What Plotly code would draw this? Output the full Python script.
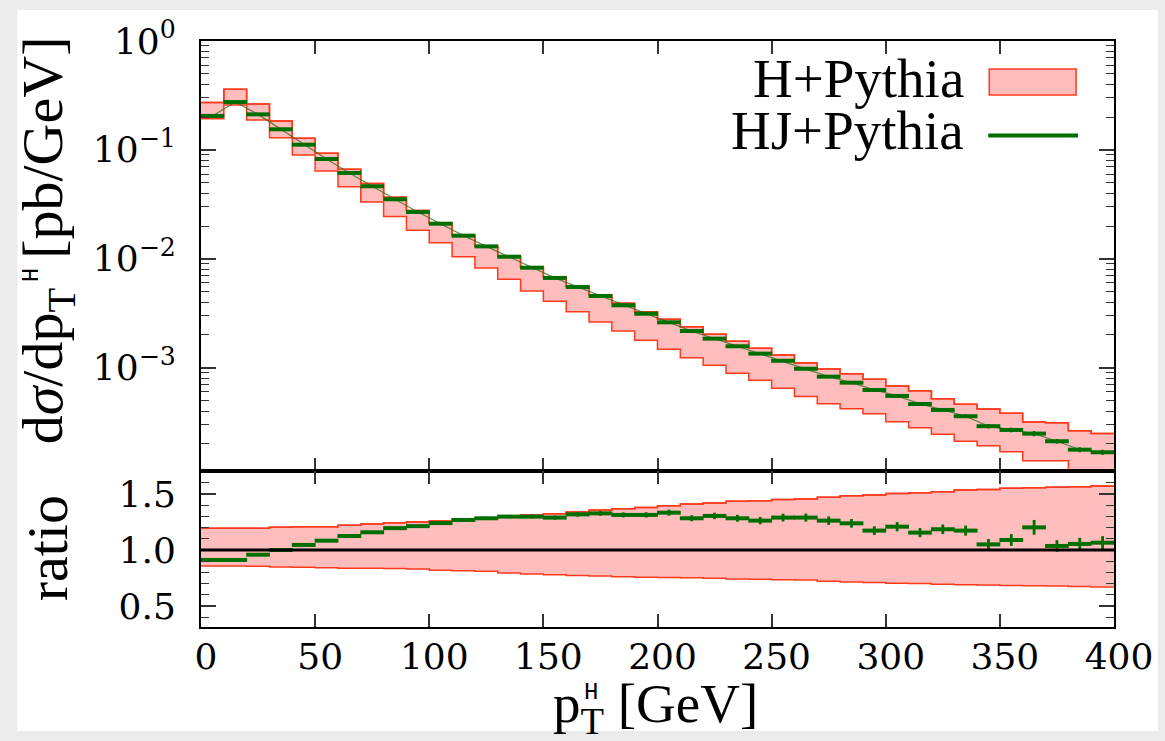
import plotly.graph_objects as go

# ---------------- data ----------------
pt_edges = [0, 10, 20, 30, 40, 50, 60, 70, 80, 90, 100, 110, 120, 130, 140, 150, 160, 170, 180, 190,
            200, 210, 220, 230, 240, 250, 260, 270, 280, 290, 300, 310, 320, 330, 340, 350, 360, 370, 380, 390, 400]

# HJ+Pythia, dsigma/dpT [pb/GeV]
hj_main = [0.205, 0.275, 0.212, 0.1546, 0.1116, 0.0825, 0.0614, 0.0463, 0.0352, 0.0269,
           0.0210, 0.0163, 0.0130, 0.01045, 0.00828, 0.00667, 0.00551, 0.00455, 0.00374, 0.00313,
           0.00261, 0.00217, 0.001847, 0.001572, 0.001345, 0.001157, 0.000977, 0.000827, 0.000728, 0.000624,
           0.000550, 0.000464, 0.000409, 0.000358, 0.000290, 0.000268, 0.000248, 0.000211, 0.0001766, 0.0001671]

# H+Pythia uncertainty band (upper / lower edge)
h_band_hi = [0.272, 0.360, 0.264, 0.184, 0.1278, 0.0930, 0.0663, 0.0490, 0.0367, 0.0278,
             0.02125, 0.01638, 0.01303, 0.0105, 0.00838, 0.00685, 0.0056, 0.00465, 0.0039, 0.00327,
             0.00278, 0.00238, 0.00203, 0.00175, 0.00151, 0.00131, 0.001105, 0.000973, 0.000881, 0.000782,
             0.000679, 0.000615, 0.000519, 0.000461, 0.000418, 0.000381, 0.000317, 0.000312, 0.000264, 0.000249]
h_band_lo = [0.193, 0.259, 0.188, 0.1294, 0.0898, 0.0640, 0.0459, 0.0332, 0.0244, 0.01828,
             0.01406, 0.01045, 0.00823, 0.00648, 0.00506, 0.00407, 0.003266, 0.00263, 0.00217, 0.001786,
             0.001476, 0.001236, 0.001052, 0.000889, 0.000766, 0.000647, 0.000544, 0.000467, 0.000420, 0.000378,
             0.000319, 0.000281, 0.000244, 0.000211, 0.000192, 0.0001694, 0.000140, 0.000140, 0.000115, 0.000105]

# ratio panel
ratio_hj = [0.911, 0.911, 0.958, 1.0, 1.045, 1.083, 1.125, 1.158, 1.195, 1.213,
            1.24, 1.268, 1.283, 1.298, 1.298, 1.289, 1.318, 1.327, 1.313, 1.313,
            1.333, 1.283, 1.304, 1.283, 1.262, 1.289, 1.289, 1.262, 1.238, 1.173,
            1.208, 1.155, 1.185, 1.173, 1.05, 1.089, 1.202, 1.036, 1.054, 1.065]
ratio_band_hi = [1.194, 1.194, 1.194, 1.203, 1.208, 1.208, 1.220, 1.232, 1.244, 1.250,
                 1.259, 1.274, 1.286, 1.298, 1.313, 1.324, 1.339, 1.357, 1.369, 1.380,
                 1.395, 1.41, 1.42, 1.435, 1.44, 1.45, 1.455, 1.47, 1.485, 1.49,
                 1.505, 1.51, 1.52, 1.535, 1.54, 1.55, 1.555, 1.56, 1.565, 1.57]
ratio_band_lo = [0.857, 0.857, 0.855, 0.848, 0.845, 0.842, 0.838, 0.836, 0.834, 0.830,
                 0.820, 0.815, 0.810, 0.795, 0.785, 0.780, 0.772, 0.768, 0.760, 0.756,
                 0.755, 0.752, 0.748, 0.740, 0.738, 0.735, 0.732, 0.720, 0.715, 0.710,
                 0.704, 0.700, 0.693, 0.690, 0.688, 0.682, 0.680, 0.678, 0.675, 0.670]
# relative statistical error of HJ+Pythia
hj_rel_err = [0.003, 0.003, 0.004, 0.004, 0.005, 0.005, 0.006, 0.006, 0.007, 0.008,
              0.009, 0.010, 0.011, 0.012, 0.013, 0.014, 0.015, 0.016, 0.017, 0.018,
              0.020, 0.021, 0.022, 0.024, 0.026, 0.027, 0.028, 0.030, 0.031, 0.033,
              0.034, 0.035, 0.036, 0.038, 0.046, 0.048, 0.055, 0.050, 0.052, 0.055]

x_ticks = [0, 50, 100, 150, 200, 250, 300, 350, 400]
y_main_ticks = [0.001, 0.01, 0.1, 1]
y_main_ticktext = ["10<sup>\u22123</sup>", "10<sup>\u22122</sup>", "10<sup>\u22121</sup>", "10<sup>0</sup>"]
y_main_minor = [m * d for d in (1e-4, 1e-3, 1e-2, 1e-1) for m in range(2, 10)]
y_ratio_ticks = [0.5, 1.0, 1.5]
y_ratio_ticktext = ["0.5", "1.0", "1.5"]
y_ratio_minor = [0.4, 0.6, 0.7, 0.8, 0.9, 1.1, 1.2, 1.3, 1.4, 1.6]

legend_labels = ["H+Pythia", "HJ+Pythia"]

# ---------------- styling ----------------
FONT = "Liberation Serif"
TICKFONT = "DejaVu Serif"
RED = "#ff3a1c"
PINK = "#ffbdbd"
GREEN = "#006e00"
THIN = "rgba(40,110,30,0.75)"

centers = [(a + b) / 2 for a, b in zip(pt_edges[:-1], pt_edges[1:])]

def step(vals):
    return list(vals) + [vals[-1]]

fig = go.Figure()

# main panel band
fig.add_trace(go.Scatter(x=pt_edges, y=step(h_band_hi), mode="lines", line=dict(shape="hv", color=RED, width=1.5),
                         xaxis="x", yaxis="y", showlegend=False, hoverinfo="skip"))
fig.add_trace(go.Scatter(x=pt_edges, y=step(h_band_lo), mode="lines", line=dict(shape="hv", color=RED, width=1.5),
                         fill="tonexty", fillcolor=PINK, xaxis="x", yaxis="y", showlegend=False, hoverinfo="skip"))
fig.add_trace(go.Scatter(x=pt_edges, y=step(h_band_hi), mode="lines", line=dict(shape="hv", color=RED, width=1.5),
                         xaxis="x", yaxis="y", showlegend=False, hoverinfo="skip"))
# thin connecting line
fig.add_trace(go.Scatter(x=centers, y=hj_main, mode="lines", line=dict(color=THIN, width=1.3),
                         xaxis="x", yaxis="y", showlegend=False, hoverinfo="skip"))
# HJ histogram segments with error crosses
fig.add_trace(go.Scatter(x=centers, y=hj_main, mode="markers", marker=dict(size=1, color=GREEN),
                         error_x=dict(type="constant", value=5.2, thickness=4, width=0, color=GREEN),
                         error_y=dict(type="data", array=[v * e for v, e in zip(hj_main, hj_rel_err)],
                                      thickness=2.5, width=0, color=GREEN),
                         xaxis="x", yaxis="y", showlegend=False))

# ratio panel band
fig.add_trace(go.Scatter(x=pt_edges, y=step(ratio_band_hi), mode="lines", line=dict(shape="hv", color=RED, width=1.5),
                         xaxis="x2", yaxis="y2", showlegend=False, hoverinfo="skip"))
fig.add_trace(go.Scatter(x=pt_edges, y=step(ratio_band_lo), mode="lines", line=dict(shape="hv", color=RED, width=1.5),
                         fill="tonexty", fillcolor=PINK, xaxis="x2", yaxis="y2", showlegend=False, hoverinfo="skip"))
fig.add_trace(go.Scatter(x=pt_edges, y=step(ratio_band_hi), mode="lines", line=dict(shape="hv", color=RED, width=1.5),
                         xaxis="x2", yaxis="y2", showlegend=False, hoverinfo="skip"))
fig.add_trace(go.Scatter(x=centers, y=ratio_hj, mode="markers", marker=dict(size=1, color=GREEN),
                         error_x=dict(type="constant", value=5.2, thickness=4, width=0, color=GREEN),
                         error_y=dict(type="data", array=[v * e for v, e in zip(ratio_hj, hj_rel_err)],
                                      thickness=2.8, width=0, color=GREEN),
                         xaxis="x2", yaxis="y2", showlegend=False))

# geometry
W, H = 1165, 741
L, R, T, B = 201, 49, 41, 114
pw, ph = W - L - R, H - T - B
split = (627 - 471) / ph

def px(xp):
    return (xp - L) / pw

def py(yp):
    return (H - B - yp) / ph

tickfont = dict(family=TICKFONT, size=36, color="black")
axis_common = dict(showline=True, linecolor="black", linewidth=2, mirror="allticks", ticks="inside",
                   tickcolor="#333", showgrid=False, zeroline=False)

fig.update_layout(
    width=W, height=H,
    margin=dict(l=L, r=R, t=T, b=B, pad=0),
    paper_bgcolor="#ebebeb",
    plot_bgcolor="white",
    showlegend=False,
    xaxis=dict(domain=[0, 1], anchor="y", range=[0, 400], tickvals=x_ticks, showticklabels=False,
               ticklen=13, tickwidth=1.5, **axis_common),
    yaxis=dict(domain=[split, 1], anchor="x", type="log", range=[-3.949, 0], tickvals=y_main_ticks,
               ticktext=y_main_ticktext, ticklen=15, tickwidth=1.5, tickfont=tickfont, ticklabelstandoff=16,
               minor=dict(tickvals=y_main_minor, ticks="inside", ticklen=8, tickwidth=1.2, tickcolor="#333"),
               **axis_common),
    xaxis2=dict(domain=[0, 1], anchor="y2", range=[0, 400], tickvals=x_ticks, ticklen=13, tickwidth=1.5,
                tickfont=tickfont, ticklabelstandoff=-3, ticklabelshift=5, **axis_common),
    yaxis2=dict(domain=[0, split], anchor="x2", range=[0.3125, 1.705], tickvals=y_ratio_ticks,
                ticktext=y_ratio_ticktext, ticklen=15, tickwidth=1.5, tickfont=tickfont, ticklabelstandoff=16,
                minor=dict(tickvals=y_ratio_minor, ticks="inside", ticklen=8, tickwidth=1.2, tickcolor="#333"),
                **axis_common),
    shapes=[
        dict(type="rect", xref="paper", yref="paper", x0=px(17), x1=px(1160), y0=py(731), y1=py(10),
             fillcolor="white", line=dict(width=0), layer="below"),
        dict(type="line", xref="x2", yref="y2", x0=0, x1=400, y0=1, y1=1,
             line=dict(color="black", width=3), layer="above"),
        # legend swatches
        dict(type="rect", xref="paper", yref="paper", x0=px(991), x1=px(1078), y0=py(95), y1=py(69),
             fillcolor=PINK, line=dict(color=RED, width=1.5)),
        dict(type="line", xref="paper", yref="paper", x0=px(990), x1=px(1080), y0=py(135.5), y1=py(135.5),
             line=dict(color=GREEN, width=4)),
    ],
    annotations=[
        dict(text=legend_labels[0], xref="paper", yref="paper", x=px(968), y=py(78), xanchor="right",
             yanchor="middle", showarrow=False, font=dict(family=FONT, size=55, color="black")),
        dict(text=legend_labels[1], xref="paper", yref="paper", x=px(968), y=py(131), xanchor="right",
             yanchor="middle", showarrow=False, font=dict(family=FONT, size=55, color="black")),
        dict(text="p<sub>T</sub> [GeV]", xref="paper", yref="paper", x=px(656), y=py(707), xanchor="center",
             yanchor="middle", showarrow=False, font=dict(family=FONT, size=55, color="black")),
        dict(text="H", xref="paper", yref="paper", x=px(592), y=py(692), xanchor="center",
             yanchor="middle", showarrow=False, font=dict(family="Liberation Mono", size=24, color="black")),
        dict(text="d<i>\u03c3</i>/dp<sub>T</sub>  [pb/GeV]", xref="paper", yref="paper", x=px(47), y=py(240),
             xanchor="center", yanchor="middle", textangle=-90, showarrow=False,
             font=dict(family=FONT, size=58, color="black")),
        dict(text="H", xref="paper", yref="paper", x=px(31), y=py(275), xanchor="center",
             yanchor="middle", textangle=-90, showarrow=False,
             font=dict(family="Liberation Mono", size=24, color="black")),
        dict(text="ratio", xref="paper", yref="paper", x=px(47), y=py(548),
             xanchor="center", yanchor="middle", textangle=-90, showarrow=False,
             font=dict(family=FONT, size=58, color="black")),
    ],
)

fig.write_html("out.html")
